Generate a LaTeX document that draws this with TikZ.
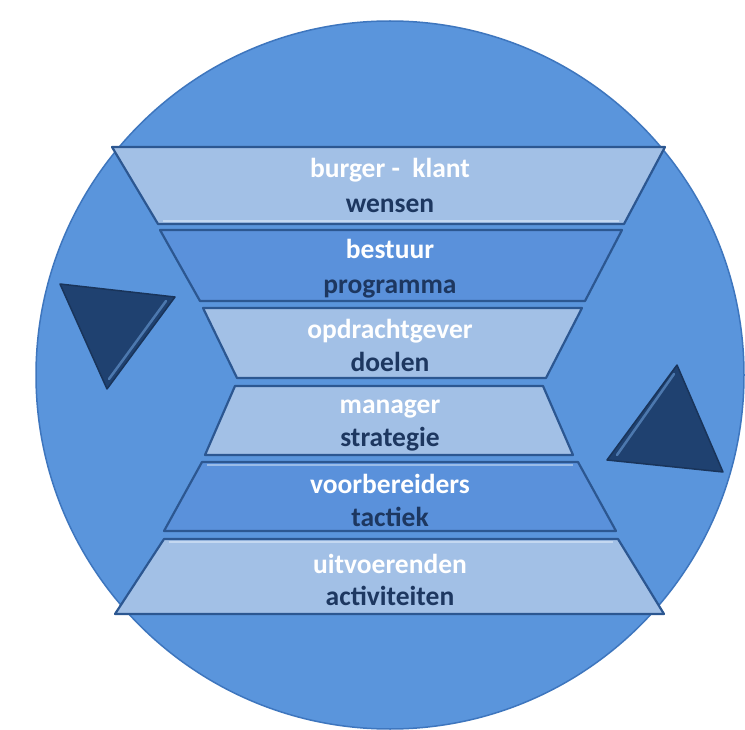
\documentclass[tikz,border=0pt]{standalone}
\usepackage{fontspec}
\setmainfont{Carlito}
\definecolor{bg}{HTML}{5A95DC}
\definecolor{circedge}{HTML}{3E76BE}
\definecolor{lightband}{HTML}{A2C0E6}
\definecolor{midband}{HTML}{5A91DB}
\definecolor{bandedge}{HTML}{2C5791}
\definecolor{bandhi}{HTML}{C4D8F1}
\definecolor{darktxt}{HTML}{1D3760}
\definecolor{tri}{HTML}{1F4170}
\definecolor{trihi}{HTML}{4C78AE}
\begin{document}
\begin{tikzpicture}[x=1pt,y=-1pt,
  band/.style={draw=bandedge, line width=2.2pt, line join=round},
  toptxt/.style={anchor=base, text=white, font=\fontsize{27.5}{30}\selectfont\bfseries, inner sep=0pt},
  bottxt/.style={anchor=base, text=darktxt, font=\fontsize{27.5}{30}\selectfont\bfseries, inner sep=0pt},
  trishape/.style={fill=tri, draw=tri!80!black, line width=1.5pt, line join=round}]
\useasboundingbox (0,0) rectangle (745,730);
\fill[white] (0,0) rectangle (745,730);
% big circle
\draw[fill=bg, draw=circedge, line width=1.5pt] (390,375) circle[radius=354];
% bands
\draw[band, fill=lightband] (112,147) -- (665,147) -- (624,224) -- (158,224) -- cycle;
\draw[band, fill=midband]   (160,230) -- (622,230) -- (585,301) -- (200,301) -- cycle;
\draw[band, fill=lightband] (203,308) -- (582,308) -- (546,378) -- (237,378) -- cycle;
\draw[band, fill=lightband] (235,386) -- (543,386) -- (573,455) -- (205,455) -- cycle;
\draw[band, fill=midband]   (202,462) -- (578,462) -- (616,531) -- (164,531) -- cycle;
\draw[band, fill=lightband] (164,539) -- (618,539) -- (664,614) -- (115,614) -- cycle;
% highlights on top edges
\draw[bandhi, line width=1.5pt] (163,221) -- (619,221);
\draw[bandhi!60!midband, line width=1.5pt] (207,465) -- (573,465);
\draw[bandhi, line width=1.5pt] (169,542) -- (613,542);
% texts
\node[toptxt] (t1) at (390,178) {burger -\ \ klant};
\node[bottxt] (b1) at (390,213) {wensen};
\node[toptxt] (t2) at (390,259) {bestuur};
\node[bottxt] (b2) at (390,294) {programma};
\node[toptxt] (t3) at (390,338) {opdrachtgever};
\node[bottxt] (b3) at (390,371) {doelen};
\node[toptxt] (t4) at (390,413) {manager};
\node[bottxt] (b4) at (390,446) {strategie};
\node[toptxt] (t5) at (390,493) {voorbereiders};
\node[bottxt] (b5) at (390,526) {tactiek};
\node[toptxt] (t6) at (390,573) {uitvoerenden};
\node[bottxt] (b6) at (390,605) {activiteiten};
% left triangle (pointing down)
\draw[trishape] (60,284) -- (175,297) -- (107,389) -- cycle;
\draw[trihi, line width=2.5pt, line cap=round] (166,301) -- (109,379);
% right triangle (pointing up)
\draw[trishape] (677,365) -- (723,472) -- (607,460) -- cycle;
\draw[trihi, line width=2.5pt, line cap=round] (674,374) -- (617,455);
\end{tikzpicture}
\end{document}
